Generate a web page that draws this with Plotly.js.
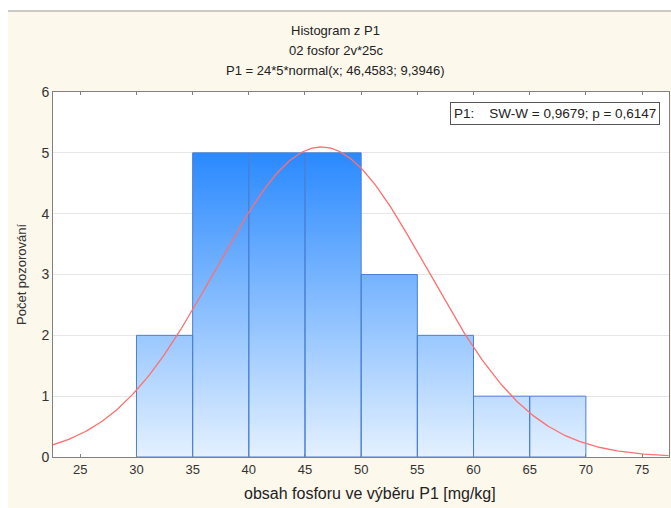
<!DOCTYPE html>
<html>
<head>
<meta charset="utf-8">
<script src="https://cdn.plot.ly/plotly-3.0.1.min.js"></script>
<style>html,body{margin:0;padding:0;background:#fff;}#chart{width:671px;height:508px;}</style>
</head>
<body>
<div id="chart"></div>
<script>
// Histogram bins (lower / upper edges) and counts
const binStart = [30, 35, 40, 45, 50, 55, 60, 65];
const binEnd   = [35, 40, 45, 50, 55, 60, 65, 70];
const counts   = [2, 5, 5, 5, 3, 2, 1, 1];
// Fitted normal curve parameters stated in the chart: P1 = 24*5*normal(x; 46,4583; 9,3946)
const nObs = 24;
const binWidth = 5;
const mean = 46.4583;
const sd = 9.3946;
const xTicks = [25, 30, 35, 40, 45, 50, 55, 60, 65, 70, 75];
const xRange = [22.57, 77.4];

// bar outlines as polygons
const px = [], py = [];
for (let i = 0; i < counts.length; i++) {
  px.push(binStart[i], binStart[i], binEnd[i], binEnd[i], binStart[i], null);
  py.push(0, counts[i], counts[i], 0, 0, null);
}
// normal curve from stated parameters
const cx = [], cy = [];
for (let x = xRange[0]; x <= xRange[1] + 1e-9; x += 0.2) {
  const z = (x - mean) / sd;
  cx.push(x);
  cy.push(nObs * binWidth * Math.exp(-0.5 * z * z) / (sd * Math.sqrt(2 * Math.PI)));
}

const W = 671, H = 508, L = 53, R = 2, T = 92, B = 51;
const pw = W - L - R, ph = H - T - B;
const fx = p => (p - L) / pw;
const fy = p => (H - B - p) / ph;

const font = 'Liberation Sans, Arial, sans-serif';

const traces = [
  {
    type: 'scatter', mode: 'lines', x: px, y: py,
    fill: 'toself',
    fillgradient: { type: 'vertical', start: 0, stop: 5,
      colorscale: [[0, '#e4f1ff'], [1, '#2a89ff']] },
    line: { color: '#4a7fd6', width: 1 },
    hoverinfo: 'skip', showlegend: false
  },
  {
    type: 'scatter', mode: 'lines', x: cx, y: cy,
    line: { color: '#ff6f6f', width: 1.3 },
    hoverinfo: 'skip', showlegend: false
  }
];

const layout = {
  width: W, height: H,
  margin: { l: L, r: R, t: T, b: B },
  paper_bgcolor: '#fdf8ec',
  plot_bgcolor: '#ffffff',
  font: { family: font, size: 13, color: '#333' },
  showlegend: false,
  xaxis: {
    range: xRange, tickvals: xTicks, ticktext: xTicks.map(String),
    ticks: 'inside', ticklen: 3, tickcolor: '#808080',
    showline: true, linecolor: '#808080', linewidth: 1, mirror: 'ticks',
    showgrid: false, zeroline: false,
    tickfont: { family: font, size: 13, color: '#333' }
  },
  yaxis: {
    range: [0, 6], dtick: 1, tick0: 0,
    ticks: '', showline: true, linecolor: '#808080', linewidth: 1, mirror: true,
    showgrid: true, gridcolor: '#e6e6e6', zeroline: false,
    tickfont: { family: font, size: 14, color: '#333' }
  },
  shapes: [
    { type: 'rect', xref: 'paper', yref: 'paper', x0: fx(0), x1: fx(W), y0: fy(10.5), y1: fy(0),
      fillcolor: '#ffffff', line: { width: 0 }, layer: 'below' },
    { type: 'rect', xref: 'paper', yref: 'paper', x0: fx(0), x1: fx(8), y0: fy(H), y1: fy(0),
      fillcolor: '#ffffff', line: { width: 0 }, layer: 'below' },
    { type: 'line', xref: 'paper', yref: 'paper', x0: fx(8), x1: fx(W), y0: fy(11), y1: fy(11),
      line: { color: '#9a9a9a', width: 1.2 } }
  ],
  annotations: [
    { text: 'Histogram z P1', xref: 'paper', yref: 'paper', x: fx(335.5), y: fy(30),
      xanchor: 'center', yanchor: 'middle', showarrow: false, font: { family: font, size: 13, color: '#222' } },
    { text: '02 fosfor 2v*25c', xref: 'paper', yref: 'paper', x: fx(335.5), y: fy(50),
      xanchor: 'center', yanchor: 'middle', showarrow: false, font: { family: font, size: 13, color: '#222' } },
    { text: 'P1 = 24*5*normal(x; 46,4583; 9,3946)', xref: 'paper', yref: 'paper', x: fx(335.5), y: fy(71),
      xanchor: 'center', yanchor: 'middle', showarrow: false, font: { family: font, size: 13, color: '#222' } },
    { text: 'Počet pozorování', xref: 'paper', yref: 'paper', x: fx(21), y: fy(274),
      xanchor: 'center', yanchor: 'middle', textangle: -90, showarrow: false, font: { family: font, size: 13, color: '#333' } },
    { text: 'obsah fosforu ve výběru P1 [mg/kg]', xref: 'paper', yref: 'paper', x: fx(370), y: fy(494),
      xanchor: 'center', yanchor: 'middle', showarrow: false, font: { family: font, size: 16, color: '#222' } },
    { text: 'P1:    SW-W = 0,9679; p = 0,6147', xref: 'paper', yref: 'paper', x: fx(660), y: fy(102),
      xanchor: 'right', yanchor: 'top', showarrow: false, bgcolor: '#ffffff', bordercolor: '#555', borderwidth: 1, borderpad: 3,
      font: { family: font, size: 13.5, color: '#222' } }
  ]
};

Plotly.newPlot('chart', traces, layout, { staticPlot: true, displayModeBar: false });
</script>
</body>
</html>
